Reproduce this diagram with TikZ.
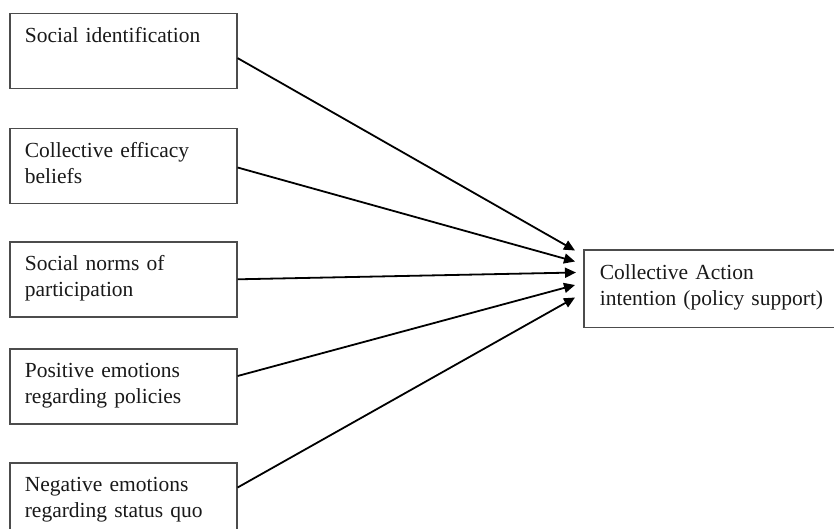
\documentclass[tikz,border=0pt]{standalone}
\usepackage{fontspec}
\setmainfont{Liberation Serif}
\usetikzlibrary{arrows.meta}

\tikzset{
  factor/.style={draw=black!70, line width=1.6pt, rectangle, anchor=north west,
    inner xsep=15pt, inner ysep=0pt, text width=197pt, align=left,
    text height=29pt, text depth=46pt, text=black!90,
    font=\fontsize{21.5pt}{26pt}\selectfont},
  outcome/.style={factor, draw=none, text width=320pt, text depth=47pt},
  border/.style={draw=black!70, line width=1.6pt},
  path/.style={line width=1.8pt, -{Triangle[length=11pt,width=10pt]}}
}

\begin{document}
\begin{tikzpicture}[x=1pt,y=1pt]
  \useasboundingbox (0,0) rectangle (834,-528);

  % predictors on the left
  \node[factor] (b1) at (9,-12.7)  {Social identification};
  \node[factor] (b2) at (9,-127.7) {Collective efficacy\\beliefs};
  \node[factor] (b3) at (9,-241)   {Social norms of\\participation};
  \node[factor] (b4) at (9,-348)   {Positive emotions\\regarding policies};
  \node[factor] (b5) at (9,-462)   {Negative emotions\\regarding status quo};

  % outcome on the right; its frame runs off the right edge
  \node[outcome] (out) at (584,-250) {Collective Action\\intention (policy support)};
  \draw[border] ([xshift=-40pt]out.north east) -- (out.north west)
    -- (out.south west) -- ([xshift=-40pt]out.south east);

  % arrow tips just left of the outcome box
  \coordinate (t1) at ([xshift=-9pt,yshift=-0.5pt]out.north west);
  \coordinate (t2) at ([xshift=-9pt,yshift=-11.5pt]out.north west);
  \coordinate (t3) at ([xshift=-8pt,yshift=-22.5pt]out.north west);
  \coordinate (t4) at ([xshift=-9pt,yshift=-35pt]out.north west);
  \coordinate (t5) at ([xshift=-9pt,yshift=-47.5pt]out.north west);

  \draw[path] ([yshift=-7.1pt]b1.east) -- (t1);
  \draw[path] ([yshift=-1.5pt]b2.east) -- (t2);
  \draw[path] (b3.east) -- (t3);
  \draw[path] ([yshift=10.3pt]b4.east) -- (t4);
  \draw[path] ([yshift=12.8pt]b5.east) -- (t5);
\end{tikzpicture}
\end{document}
